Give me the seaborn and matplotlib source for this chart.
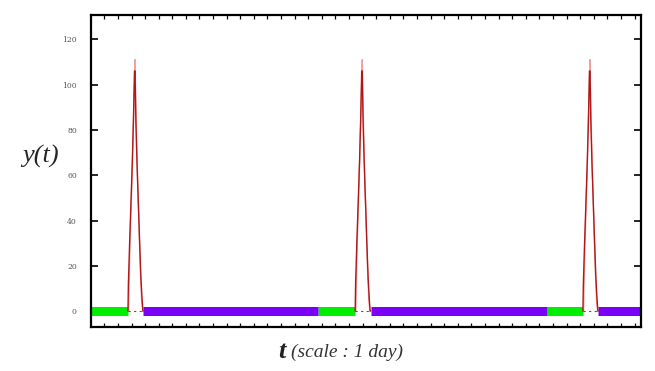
import numpy as np
import pandas as pd
import matplotlib
matplotlib.use("Agg")
import matplotlib.pyplot as plt
import seaborn as sns

sns.set_style("ticks")

# x in tick units (one tick = one unit), y in signal units
peak_starts = [2.74, 19.45, 36.2]
green_segments = [(0.0, 2.74), (16.75, 19.45), (33.55, 36.2)]
purple_segments = [(3.86, 16.75), (20.6, 33.55), (37.3, 40.44)]

# spike shape relative to its start
spike_dx = [0.0, 0.03, 0.12, 0.22, 0.32, 0.40, 0.44, 0.48, 0.52, 0.58, 0.66, 0.76, 0.86, 0.95, 1.03, 1.10, 1.12]
spike_y = [0, 12, 30, 48, 66, 84, 95, 106, 106, 84, 66, 48, 30, 15, 6, 0, 0]
pink_dx = [0.05, 0.15, 0.28, 0.38, 0.46, 0.52, 0.56, 0.62, 0.70, 0.80, 0.90, 1.00, 1.08]
pink_y = [0, 30, 55, 78, 96, 111, 96, 80, 60, 40, 20, 5, 0]

ytick_vals = [0, 20, 40, 60, 80, 100, 120]

fig = plt.figure(figsize=(6.55, 3.71), dpi=100)
ax = fig.add_axes([0.1385, 0.1186, 0.8395, 0.8397])

for a, b in green_segments:
    ax.plot([a, b], [0, 0], color="#00ee00", lw=6.5, solid_capstyle="butt", zorder=2)
for a, b in purple_segments:
    ax.plot([a, b], [0, 0], color="#7a00f5", lw=6.5, solid_capstyle="butt", zorder=2)

rows = []
for k, s in enumerate(peak_starts):
    for dx, y in zip(pink_dx, pink_y):
        rows.append({"x": s + dx, "y": y, "spike": "p%d" % k})
pink = pd.DataFrame(rows)
rows = []
for k, s in enumerate(peak_starts):
    for dx, y in zip(spike_dx, spike_y):
        rows.append({"x": s + dx, "y": y, "spike": "r%d" % k})
red = pd.DataFrame(rows)

sns.lineplot(data=pink, x="x", y="y", units="spike", estimator=None, sort=False,
             color="#f0a0a0", lw=1.0, ax=ax, zorder=3)
sns.lineplot(data=red, x="x", y="y", units="spike", estimator=None, sort=False,
             color="#b01818", lw=1.0, ax=ax, zorder=4)

for s in peak_starts:
    ax.plot([s, s + 1.12], [0, 0], color="#555555", lw=0.8, ls=(0, (2, 3)), zorder=3)

ax.set_xlim(0, 40.44)
ax.set_ylim(-7, 130.5)
ax.set_xticks(np.arange(1, 41))
ax.set_xticklabels([])
ax.set_yticks(ytick_vals)
ax.set_yticklabels([str(v) for v in ytick_vals], fontsize=5.5, color="#555555",
                   family="DejaVu Serif")
ax.tick_params(axis="both", direction="in", top=True, right=True, width=0.9,
               color="black")
ax.tick_params(axis="x", length=3)
ax.tick_params(axis="y", length=5, width=1.2, pad=10)
for sp in ax.spines.values():
    sp.set_linewidth(1.6)
    sp.set_color("black")
ax.set_xlabel("")
ax.set_ylabel("")

fig.text(0.062, 0.578, "y(t)", fontsize=19, style="italic", family="Liberation Serif",
         ha="center", va="center")
fig.text(0.424, 0.052, "t", fontsize=19, fontweight="bold", style="italic",
         family="Liberation Serif", ha="left", va="center", color="#222222")
fig.text(0.445, 0.050, "(scale : 1 day)", fontsize=14, style="italic",
         family="Liberation Serif", ha="left", va="center", color="#333333")

fig.savefig("out.png", dpi=100)
